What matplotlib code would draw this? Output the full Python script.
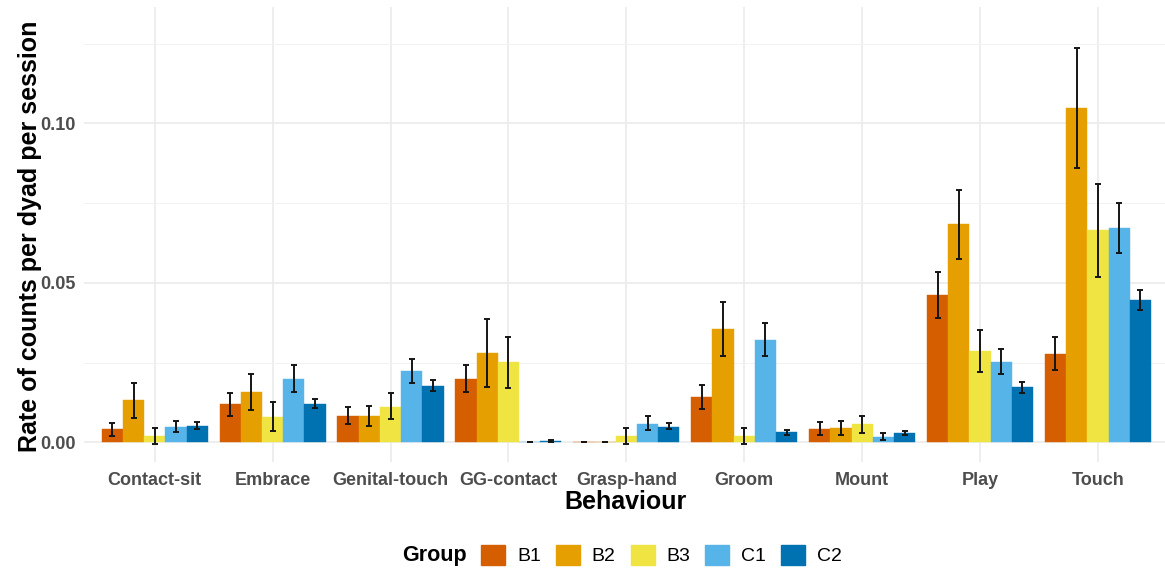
import numpy as np
import matplotlib
matplotlib.use("Agg")
import matplotlib.pyplot as plt
from matplotlib.patches import Patch

# Data
behaviours = ["Contact-sit", "Embrace", "Genital-touch", "GG-contact", "Grasp-hand",
              "Groom", "Mount", "Play", "Touch"]
groups = ["B1", "B2", "B3", "C1", "C2"]
colors = ["#D55E00", "#E69F00", "#F0E442", "#56B4E9", "#0072B2"]

# mean rate per group (one list per group, columns follow behaviours)
rate_b1 = [0.0040, 0.0120, 0.0083, 0.0197, 0.0000, 0.0142, 0.0042, 0.0462, 0.0278]
rate_b2 = [0.0131, 0.0156, 0.0082, 0.0279, 0.0000, 0.0355, 0.0046, 0.0683, 0.1048]
rate_b3 = [0.0020, 0.0079, 0.0112, 0.0253, 0.0020, 0.0021, 0.0058, 0.0286, 0.0665]
rate_c1 = [0.0049, 0.0197, 0.0222, 0.0000, 0.0056, 0.0322, 0.0016, 0.0252, 0.0672]
rate_c2 = [0.0052, 0.0120, 0.0175, 0.0004, 0.0049, 0.0031, 0.0028, 0.0172, 0.0445]

# error bar upper ends
upper_b1 = [0.0061, 0.0155, 0.0111, 0.0241, 0.0000, 0.0178, 0.0065, 0.0535, 0.0331]
upper_b2 = [0.0185, 0.0214, 0.0114, 0.0387, 0.0000, 0.0440, 0.0068, 0.0791, 0.1237]
upper_b3 = [0.0045, 0.0125, 0.0154, 0.0331, 0.0045, 0.0045, 0.0083, 0.0353, 0.0809]
upper_c1 = [0.0066, 0.0242, 0.0262, 0.0000, 0.0081, 0.0375, 0.0030, 0.0293, 0.0750]
upper_c2 = [0.0062, 0.0136, 0.0194, 0.0006, 0.0060, 0.0039, 0.0035, 0.0190, 0.0477]

# error bar lower ends
lower_b1 = [0.0018, 0.0083, 0.0058, 0.0158, 0.0000, 0.0105, 0.0023, 0.0389, 0.0227]
lower_b2 = [0.0075, 0.0102, 0.0051, 0.0174, 0.0000, 0.0269, 0.0023, 0.0576, 0.0861]
lower_b3 = [-0.0004, 0.0034, 0.0073, 0.0171, -0.0004, -0.0004, 0.0030, 0.0219, 0.0518]
lower_c1 = [0.0031, 0.0156, 0.0185, 0.0000, 0.0037, 0.0270, 0.0006, 0.0214, 0.0594]
lower_c2 = [0.0043, 0.0106, 0.0160, 0.0002, 0.0040, 0.0023, 0.0022, 0.0154, 0.0415]

rates = [rate_b1, rate_b2, rate_b3, rate_c1, rate_c2]
uppers = [upper_b1, upper_b2, upper_b3, upper_c1, upper_c2]
lowers = [lower_b1, lower_b2, lower_b3, lower_c1, lower_c2]

plt.rcParams["font.family"] = ["Liberation Sans", "DejaVu Sans"]

W, H = 1165, 571
fig = plt.figure(figsize=(W / 100, H / 100), dpi=100)
ax = fig.add_axes([84 / W, 109 / H, (W - 84) / W, 455 / H])

x = np.arange(1, len(behaviours) + 1)
bar_w = 0.9 / len(groups)

for i, g in enumerate(groups):
    pos = x - 0.45 + bar_w * (i + 0.5)
    vals = np.array(rates[i])
    err = [vals - np.array(lowers[i]), np.array(uppers[i]) - vals]
    ax.bar(pos, vals, width=bar_w, color=colors[i], edgecolor=colors[i],
           linewidth=0.3, zorder=2)
    ax.errorbar(pos, vals, yerr=err, fmt="none", ecolor="#151515", elinewidth=1.4,
                capsize=2.3, capthick=1.4, zorder=3)

ax.set_xlim(0.4, 0.4 + (W - 84) / 117.9)
ax.set_ylim(-0.0062, 0.1365)
ax.set_xticks(x)
ax.set_xticklabels(behaviours)
ax.set_yticks([0.0, 0.05, 0.10])
ax.set_yticklabels(["0.00", "0.05", "0.10"])
ax.set_yticks([0.025, 0.075, 0.125], minor=True)

ax.grid(True, which="major", color="#EBEBEB", linewidth=1.2, zorder=0)
ax.grid(True, which="minor", axis="y", color="#F2F2F2", linewidth=0.7, zorder=0)
ax.set_axisbelow(True)
for s in ax.spines.values():
    s.set_visible(False)
ax.tick_params(which="both", length=0)
ax.tick_params(axis="x", pad=7, labelsize=13, labelcolor="#4D4D4D")
ax.tick_params(axis="y", pad=6, labelsize=13, labelcolor="#4D4D4D")
for lab in ax.get_xticklabels() + ax.get_yticklabels():
    lab.set_fontweight("bold")

fig.text(30 / W, 1 - 236 / H, "Rate of counts per dyad per session", rotation=90,
         ha="center", va="center", fontsize=18, fontweight="bold", color="black")
fig.text(626 / W, 1 - 502 / H, "Behaviour", ha="center", va="center",
         fontsize=18, fontweight="bold", color="black")

# legend on one row with the title on its left
fig.text(467 / W, 1 - 555 / H, "Group", ha="right", va="center",
         fontsize=15.5, fontweight="bold", color="black")
handles = [Patch(facecolor=c, edgecolor=c) for c in colors]
fig.legend(handles, groups, loc="center left", bbox_to_anchor=(481 / W, 1 - 555 / H),
           ncol=5, frameon=False, fontsize=14, handlelength=1.23, handleheight=1.23,
           handletextpad=0.62, columnspacing=0.77, borderaxespad=0, borderpad=0)

fig.savefig("out.png", dpi=100, facecolor="white")
